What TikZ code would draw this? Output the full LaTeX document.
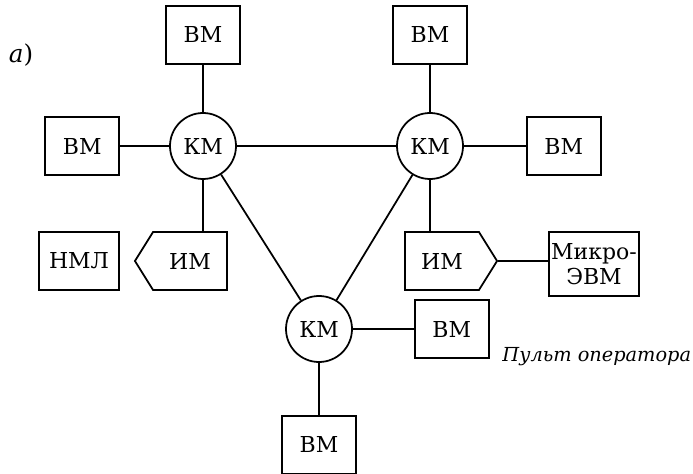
\documentclass[tikz,border=0pt]{standalone}
\usepackage{fontspec}
\setmainfont{DejaVu Serif}
\usepackage{tikz}
\usetikzlibrary{positioning,shapes.symbols}

\begin{document}
\begin{tikzpicture}[
    font=\fontsize{12.5}{14}\selectfont,
    line width=1pt,
    node distance=.95cm,
    comm/.style={circle, draw, minimum size=1.32cm, inner sep=0pt},
    unit/.style={draw, minimum width=1.48cm, minimum height=1.16cm, inner sep=0pt},
    mem/.style={signal, draw, signal pointer angle=116, minimum width=1.84cm,
        minimum height=1.16cm, inner sep=0pt}
]
\useasboundingbox (0,0) rectangle (13.86,-9.48);

% Switching modules
\node[comm] (KM1) at (4.06,-2.92) {КМ};
\node[comm] (KM2) at (8.6,-2.92) {КМ};
\node[comm] (KM3) at (6.38,-6.58) {КМ};

% Computing modules
\node[unit, above=of KM1] (BM1) {ВМ};
\node[unit, left=.98cm of KM1] (BM2) {ВМ};
\node[unit, above=of KM2] (BM3) {ВМ};
\node[unit, right=1.24cm of KM2] (BM4) {ВМ};
\node[unit, right=1.22cm of KM3] (BM5) {ВМ};
\node[unit, below=1.04cm of KM3] (BM6) {ВМ};

% Interface modules and peripherals
\node[mem, signal to=west] (IM1) at (3.8,-5.22) {ИМ};
\node[mem, signal to=east] (IM2) at (8.84,-5.22) {ИМ};
\node[unit, minimum width=1.6cm] (NML) at (1.58,-5.22) {НМЛ};
\node[unit, minimum width=1.8cm, minimum height=1.28cm, align=center]
    (MEVM) at (11.88,-5.28) {Микро-\\ЭВМ};

% Labels
\node (tag) at (.42,-1.1) {\fontsize{14}{16}\selectfont\textit{а})};
\node[anchor=east, inner sep=0pt, font=\fontsize{11}{13}\selectfont]
    (PO) at (13.84,-7.14) {\textit{Пульт оператора}};

% Links
\draw (KM1) -- (KM2);
\draw (KM1) -- (KM3);
\draw (KM2) -- (KM3);
\draw (KM1) -- (BM1);
\draw (KM1) -- (BM2);
\draw (KM2) -- (BM3);
\draw (KM2) -- (BM4);
\draw (KM3) -- (BM5);
\draw (KM3) -- (BM6);
\draw (KM1) -- (KM1 |- IM1.north);
\draw (KM2) -- (KM2 |- IM2.north);
\draw (IM2.east) -- (MEVM.west |- IM2.east);

\end{tikzpicture}
\end{document}
